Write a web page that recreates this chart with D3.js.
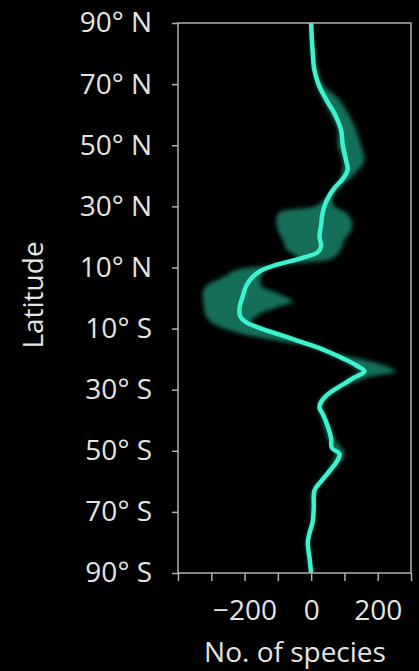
<!DOCTYPE html>
<html>
<head>
<meta charset="utf-8">
<script src="https://cdn.jsdelivr.net/npm/d3@7/dist/d3.min.js"></script>
<style>
  html, body { margin: 0; padding: 0; background: #000; }
  svg { display: block; }
  text { font-family: "Open Sans", "Noto Sans", sans-serif; fill: #e4e4e4; }
</style>
</head>
<body>
<svg id="chart" width="419" height="671"></svg>
<script>
// Mean change in number of species by latitude
const meanLat = [90,85,80,75,70,65,60,55,50,45,42,39,36,33,30,27,24,20,17,15,13,11,9,7,4,0,-3,-6,-8,-10,-12,-14,-16,-18,-20,-22,-24,-26,-28,-30,-32,-34,-36,-38,-42,-46,-49,-51,-53,-56,-60,-63,-68,-73,-77,-80,-85,-90];
const meanVal = [0,2,5,9,22,45,72,90,95,105,110,95,70,52,40,33,30,25,30,20,-30,-100,-150,-175,-195,-207,-215,-213,-195,-150,-95,-40,15,60,100,135,160,130,100,70,45,30,25,35,50,60,62,85,80,60,30,10,8,5,-5,-10,-5,0];

// Uncertainty band
const bandLat = [90,80,70,65,60,55,50,45,40,36,33,30,28,25,22,19,16,13,11,9,7,4,2,-1,-3,-5,-8,-10,-12,-14,-16,-18,-20,-22,-24,-26,-28,-30,-34,-38,-46,-51,-56,-63,-73,-80,-90];
const bandLo  = [-3,0,15,35,60,80,80,95,90,65,45,10,-96,-105,-100,-85,-75,-40,-110,-230,-260,-315,-325,-325,-322,-320,-300,-260,-200,-100,0,45,85,115,145,115,90,60,22,28,50,72,52,4,0,-14,-3];
const bandHi  = [3,10,35,84,114,135,150,160,125,85,65,70,105,123,120,100,90,65,-70,-140,-150,-150,-110,-55,-100,-150,-180,-140,-85,-30,30,75,150,220,255,170,120,85,36,42,70,100,70,16,10,-6,3];

const xTicks = [-400,-300,-200,-100,0,100,200,300];
const xLabels = {"-200": "\u2212200", "0": "0", "200": "200"};
const latTicks = [90,70,50,30,10,-10,-30,-50,-70,-90];

const svg = d3.select("#chart");
const L = 178, R = 411, T = 23, B = 573;

const x = d3.scaleLinear().domain([-400, 300]).range([L, R]);
const y = d3.scaleLinear().domain([-90, 90]).range([B, T]);

const band = bandLat.map((lat, i) => ({lat, lo: bandLo[i], hi: bandHi[i]}));
const mean = meanLat.map((lat, i) => ({lat, v: meanVal[i]}));

const defs = svg.append("defs");
defs.append("clipPath").attr("id", "clip")
  .append("rect").attr("x", L).attr("y", T).attr("width", R - L).attr("height", B - T);
defs.append("filter").attr("id", "blurBand").attr("x", "-20%").attr("y", "-5%").attr("width", "140%").attr("height", "110%")
  .append("feGaussianBlur").attr("stdDeviation", 2.2);
defs.append("filter").attr("id", "blurLine").attr("x", "-20%").attr("y", "-5%").attr("width", "140%").attr("height", "110%")
  .append("feGaussianBlur").attr("stdDeviation", 0.6);

const g = svg.append("g").attr("clip-path", "url(#clip)");

g.append("path")
  .datum(band)
  .attr("fill", "#167a64")
  .attr("fill-opacity", 0.9)
  .attr("filter", "url(#blurBand)")
  .attr("d", d3.area()
    .curve(d3.curveCatmullRom)
    .y(d => y(d.lat))
    .x0(d => x(d.lo))
    .x1(d => x(d.hi)));

g.append("path")
  .datum(mean)
  .attr("fill", "none")
  .attr("stroke", "#3cf2cf")
  .attr("stroke-width", 4.5)
  .attr("stroke-linejoin", "round")
  .attr("filter", "url(#blurLine)")
  .attr("d", d3.line()
    .curve(d3.curveCatmullRom)
    .y(d => y(d.lat))
    .x(d => x(d.v)));

// frame
svg.append("rect")
  .attr("x", L).attr("y", T).attr("width", R - L).attr("height", B - T)
  .attr("fill", "none").attr("stroke", "#b0b0b0").attr("stroke-width", 1.5);

// axes
const yAxis = d3.axisLeft(y)
  .tickValues(latTicks)
  .tickSize(6)
  .tickPadding(20)
  .tickFormat(d => d > 0 ? `${d}° N` : `${-d}° S`);
const ya = svg.append("g").attr("transform", `translate(${L},0)`).call(yAxis);
ya.select(".domain").remove();
ya.selectAll("line").attr("stroke", "#b0b0b0").attr("stroke-width", 1.5);
ya.selectAll("text").attr("font-size", 28).style("font-family", "'Open Sans', sans-serif").attr("fill", "#e4e4e4");

const xAxis = d3.axisBottom(x)
  .tickValues(xTicks)
  .tickSize(8)
  .tickPadding(19)
  .tickFormat(d => xLabels[String(d)] || "");
const xa = svg.append("g").attr("transform", `translate(0,${B})`).call(xAxis);
xa.select(".domain").remove();
xa.selectAll("line").attr("stroke", "#b0b0b0").attr("stroke-width", 1.5);
xa.selectAll("text").attr("font-size", 28).style("font-family", "'Open Sans', sans-serif").attr("fill", "#e4e4e4");

svg.append("text")
  .attr("x", 295).attr("y", 662)
  .attr("text-anchor", "middle")
  .attr("font-size", 28)
  .text("No. of species");

svg.append("text")
  .attr("transform", "translate(43,295) rotate(-90)")
  .attr("text-anchor", "middle")
  .attr("font-size", 28)
  .text("Latitude");
</script>
</body>
</html>
